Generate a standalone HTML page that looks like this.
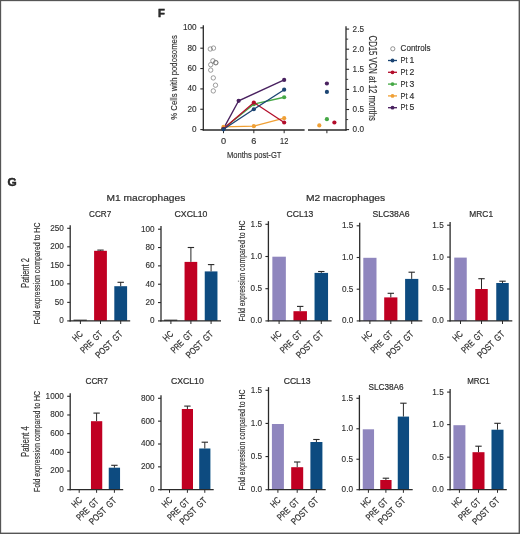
<!DOCTYPE html>
<html><head><meta charset="utf-8"><style>
html,body{margin:0;padding:0;background:#fff;}
svg{display:block;}
text{font-family:"Liberation Sans", sans-serif;fill:#2e2e2e;}
</style></head><body>
<svg width="520" height="534" viewBox="0 0 520 534">
<defs><filter id="soft" x="-5%" y="-5%" width="110%" height="110%"><feGaussianBlur stdDeviation="0.3"/></filter></defs>
<rect x="0" y="0" width="520" height="534" fill="#fff"/>
<g filter="url(#soft)">
<text x="157.90" y="17.00" font-size="11.6" textLength="6.90" lengthAdjust="spacingAndGlyphs" font-weight="bold" fill="#111" stroke="#111" stroke-width="0.45">F</text>
<line x1="203.30" y1="25.20" x2="203.30" y2="130.60" stroke="#2a2a2a" stroke-width="1.3"/>
<line x1="200.30" y1="129.60" x2="203.30" y2="129.60" stroke="#2a2a2a" stroke-width="1.1"/>
<text x="196.60" y="132.10" font-size="8.2" text-anchor="end" stroke="#2e2e2e" stroke-width="0.12">0</text>
<line x1="200.30" y1="109.25" x2="203.30" y2="109.25" stroke="#2a2a2a" stroke-width="1.1"/>
<text x="196.60" y="111.75" font-size="8.2" text-anchor="end" stroke="#2e2e2e" stroke-width="0.12">20</text>
<line x1="200.30" y1="88.90" x2="203.30" y2="88.90" stroke="#2a2a2a" stroke-width="1.1"/>
<text x="196.60" y="91.40" font-size="8.2" text-anchor="end" stroke="#2e2e2e" stroke-width="0.12">40</text>
<line x1="200.30" y1="68.55" x2="203.30" y2="68.55" stroke="#2a2a2a" stroke-width="1.1"/>
<text x="196.60" y="71.05" font-size="8.2" text-anchor="end" stroke="#2e2e2e" stroke-width="0.12">60</text>
<line x1="200.30" y1="48.20" x2="203.30" y2="48.20" stroke="#2a2a2a" stroke-width="1.1"/>
<text x="196.60" y="50.70" font-size="8.2" text-anchor="end" stroke="#2e2e2e" stroke-width="0.12">80</text>
<line x1="200.30" y1="27.85" x2="203.30" y2="27.85" stroke="#2a2a2a" stroke-width="1.1"/>
<text x="196.60" y="30.35" font-size="8.2" text-anchor="end" stroke="#2e2e2e" stroke-width="0.12">100</text>
<text x="177.00" y="119.70" font-size="9.6" textLength="84.50" lengthAdjust="spacingAndGlyphs" transform="rotate(-90 177.00 119.70)" stroke="#2e2e2e" stroke-width="0.15">% Cells with podosomes</text>
<line x1="202.70" y1="130.00" x2="304.60" y2="130.00" stroke="#2a2a2a" stroke-width="1.3"/>
<line x1="223.50" y1="130.00" x2="223.50" y2="133.20" stroke="#2a2a2a" stroke-width="1.0"/>
<line x1="253.83" y1="130.00" x2="253.83" y2="133.20" stroke="#2a2a2a" stroke-width="1.0"/>
<line x1="284.16" y1="130.00" x2="284.16" y2="133.20" stroke="#2a2a2a" stroke-width="1.0"/>
<text x="223.50" y="143.80" font-size="9.2" text-anchor="middle" stroke="#2e2e2e" stroke-width="0.15">0</text>
<text x="253.83" y="143.80" font-size="9.2" text-anchor="middle" stroke="#2e2e2e" stroke-width="0.15">6</text>
<text x="284.16" y="143.80" font-size="9.2" text-anchor="middle" textLength="8.30" lengthAdjust="spacingAndGlyphs" stroke="#2e2e2e" stroke-width="0.15">12</text>
<text x="254.20" y="157.60" font-size="9.9" text-anchor="middle" textLength="54.50" lengthAdjust="spacingAndGlyphs" stroke="#2e2e2e" stroke-width="0.15">Months post-GT</text>
<line x1="308.00" y1="130.00" x2="346.60" y2="130.00" stroke="#2a2a2a" stroke-width="1.3"/>
<line x1="326.90" y1="130.00" x2="326.90" y2="133.20" stroke="#2a2a2a" stroke-width="1.0"/>
<line x1="346.00" y1="26.20" x2="346.00" y2="130.60" stroke="#2a2a2a" stroke-width="1.3"/>
<line x1="346.00" y1="129.60" x2="349.10" y2="129.60" stroke="#2a2a2a" stroke-width="1.1"/>
<text x="352.60" y="132.10" font-size="8.2" stroke="#2e2e2e" stroke-width="0.12">0.0</text>
<line x1="346.00" y1="119.55" x2="348.20" y2="119.55" stroke="#2a2a2a" stroke-width="0.9"/>
<line x1="346.00" y1="109.50" x2="349.10" y2="109.50" stroke="#2a2a2a" stroke-width="1.1"/>
<text x="352.60" y="112.00" font-size="8.2" stroke="#2e2e2e" stroke-width="0.12">0.5</text>
<line x1="346.00" y1="99.45" x2="348.20" y2="99.45" stroke="#2a2a2a" stroke-width="0.9"/>
<line x1="346.00" y1="89.40" x2="349.10" y2="89.40" stroke="#2a2a2a" stroke-width="1.1"/>
<text x="352.60" y="91.90" font-size="8.2" stroke="#2e2e2e" stroke-width="0.12">1.0</text>
<line x1="346.00" y1="79.35" x2="348.20" y2="79.35" stroke="#2a2a2a" stroke-width="0.9"/>
<line x1="346.00" y1="69.30" x2="349.10" y2="69.30" stroke="#2a2a2a" stroke-width="1.1"/>
<text x="352.60" y="71.80" font-size="8.2" stroke="#2e2e2e" stroke-width="0.12">1.5</text>
<line x1="346.00" y1="59.25" x2="348.20" y2="59.25" stroke="#2a2a2a" stroke-width="0.9"/>
<line x1="346.00" y1="49.20" x2="349.10" y2="49.20" stroke="#2a2a2a" stroke-width="1.1"/>
<text x="352.60" y="51.70" font-size="8.2" stroke="#2e2e2e" stroke-width="0.12">2.0</text>
<line x1="346.00" y1="39.15" x2="348.20" y2="39.15" stroke="#2a2a2a" stroke-width="0.9"/>
<line x1="346.00" y1="29.10" x2="349.10" y2="29.10" stroke="#2a2a2a" stroke-width="1.1"/>
<text x="352.60" y="31.60" font-size="8.2" stroke="#2e2e2e" stroke-width="0.12">2.5</text>
<text x="369.20" y="35.60" font-size="10.0" textLength="85.30" lengthAdjust="spacingAndGlyphs" transform="rotate(90 369.20 35.60)" stroke="#2e2e2e" stroke-width="0.15">CD15 VCN at 12 months</text>
<circle cx="210.30" cy="49.00" r="2.2" fill="none" stroke="#6a6a6a" stroke-width="0.65"/>
<circle cx="213.50" cy="48.10" r="2.2" fill="none" stroke="#6a6a6a" stroke-width="0.65"/>
<circle cx="212.90" cy="60.80" r="2.2" fill="none" stroke="#6a6a6a" stroke-width="0.65"/>
<circle cx="215.70" cy="62.50" r="2.2" fill="none" stroke="#6a6a6a" stroke-width="0.65"/>
<circle cx="215.90" cy="62.80" r="2.2" fill="none" stroke="#6a6a6a" stroke-width="0.65"/>
<circle cx="210.70" cy="64.70" r="2.2" fill="none" stroke="#6a6a6a" stroke-width="0.65"/>
<circle cx="210.70" cy="70.10" r="2.2" fill="none" stroke="#6a6a6a" stroke-width="0.65"/>
<circle cx="213.30" cy="77.90" r="2.2" fill="none" stroke="#6a6a6a" stroke-width="0.65"/>
<circle cx="215.50" cy="85.20" r="2.2" fill="none" stroke="#6a6a6a" stroke-width="0.65"/>
<circle cx="213.30" cy="90.90" r="2.2" fill="none" stroke="#6a6a6a" stroke-width="0.65"/>
<polyline points="223.50,128.58 238.66,100.80 284.16,79.95" fill="none" stroke="#48205f" stroke-width="1.35"/>
<circle cx="223.50" cy="128.58" r="2.1" fill="#48205f"/>
<circle cx="238.66" cy="100.80" r="2.1" fill="#48205f"/>
<circle cx="284.16" cy="79.95" r="2.1" fill="#48205f"/>
<polyline points="223.50,128.58 253.83,104.16 284.16,97.24" fill="none" stroke="#45a845" stroke-width="1.35"/>
<circle cx="223.50" cy="128.58" r="2.1" fill="#45a845"/>
<circle cx="253.83" cy="104.16" r="2.1" fill="#45a845"/>
<circle cx="284.16" cy="97.24" r="2.1" fill="#45a845"/>
<polyline points="223.50,126.95 253.83,126.14 284.16,118.20" fill="none" stroke="#f0a035" stroke-width="1.35"/>
<circle cx="223.50" cy="126.95" r="2.1" fill="#f0a035"/>
<circle cx="253.83" cy="126.14" r="2.1" fill="#f0a035"/>
<circle cx="284.16" cy="118.20" r="2.1" fill="#f0a035"/>
<polyline points="223.50,128.79 253.83,102.53 284.16,122.48" fill="none" stroke="#b3102c" stroke-width="1.35"/>
<circle cx="223.50" cy="128.79" r="2.1" fill="#b3102c"/>
<circle cx="253.83" cy="102.53" r="2.1" fill="#b3102c"/>
<circle cx="284.16" cy="122.48" r="2.1" fill="#b3102c"/>
<polyline points="223.50,129.29 253.83,109.25 284.16,89.71" fill="none" stroke="#1c4473" stroke-width="1.35"/>
<circle cx="223.50" cy="129.29" r="2.1" fill="#1c4473"/>
<circle cx="253.83" cy="109.25" r="2.1" fill="#1c4473"/>
<circle cx="284.16" cy="89.71" r="2.1" fill="#1c4473"/>
<circle cx="326.90" cy="83.50" r="2.1" fill="#48205f"/>
<circle cx="326.90" cy="91.90" r="2.1" fill="#1c4473"/>
<circle cx="326.90" cy="119.20" r="2.1" fill="#45a845"/>
<circle cx="334.40" cy="122.50" r="2.1" fill="#b3102c"/>
<circle cx="319.30" cy="125.40" r="2.1" fill="#f0a035"/>
<circle cx="392.80" cy="48.80" r="2.1" fill="none" stroke="#666" stroke-width="0.7"/>
<text x="400.60" y="51.10" font-size="8.4" textLength="30.00" lengthAdjust="spacingAndGlyphs" stroke="#2e2e2e" stroke-width="0.15">Controls</text>
<line x1="388.00" y1="60.50" x2="397.00" y2="60.50" stroke="#1c4473" stroke-width="1.3"/>
<circle cx="392.50" cy="60.50" r="1.9" fill="#1c4473"/>
<text x="400.60" y="63.10" font-size="8.6" textLength="6.90" lengthAdjust="spacingAndGlyphs" stroke="#2e2e2e" stroke-width="0.15">Pt</text>
<text x="409.50" y="63.10" font-size="8.6" stroke="#2e2e2e" stroke-width="0.15">1</text>
<line x1="388.00" y1="72.30" x2="397.00" y2="72.30" stroke="#b3102c" stroke-width="1.3"/>
<circle cx="392.50" cy="72.30" r="1.9" fill="#b3102c"/>
<text x="400.60" y="74.90" font-size="8.6" textLength="6.90" lengthAdjust="spacingAndGlyphs" stroke="#2e2e2e" stroke-width="0.15">Pt</text>
<text x="409.50" y="74.90" font-size="8.6" stroke="#2e2e2e" stroke-width="0.15">2</text>
<line x1="388.00" y1="84.10" x2="397.00" y2="84.10" stroke="#45a845" stroke-width="1.3"/>
<circle cx="392.50" cy="84.10" r="1.9" fill="#45a845"/>
<text x="400.60" y="86.70" font-size="8.6" textLength="6.90" lengthAdjust="spacingAndGlyphs" stroke="#2e2e2e" stroke-width="0.15">Pt</text>
<text x="409.50" y="86.70" font-size="8.6" stroke="#2e2e2e" stroke-width="0.15">3</text>
<line x1="388.00" y1="95.90" x2="397.00" y2="95.90" stroke="#f0a035" stroke-width="1.3"/>
<circle cx="392.50" cy="95.90" r="1.9" fill="#f0a035"/>
<text x="400.60" y="98.50" font-size="8.6" textLength="6.90" lengthAdjust="spacingAndGlyphs" stroke="#2e2e2e" stroke-width="0.15">Pt</text>
<text x="409.50" y="98.50" font-size="8.6" stroke="#2e2e2e" stroke-width="0.15">4</text>
<line x1="388.00" y1="107.70" x2="397.00" y2="107.70" stroke="#48205f" stroke-width="1.3"/>
<circle cx="392.50" cy="107.70" r="1.9" fill="#48205f"/>
<text x="400.60" y="110.30" font-size="8.6" textLength="6.90" lengthAdjust="spacingAndGlyphs" stroke="#2e2e2e" stroke-width="0.15">Pt</text>
<text x="409.50" y="110.30" font-size="8.6" stroke="#2e2e2e" stroke-width="0.15">5</text>
<text x="7.40" y="185.80" font-size="11.6" textLength="9.20" lengthAdjust="spacingAndGlyphs" font-weight="bold" fill="#111" stroke="#111" stroke-width="0.45">G</text>
<text x="145.95" y="201.10" font-size="9.9" text-anchor="middle" textLength="78.70" lengthAdjust="spacingAndGlyphs" stroke="#2e2e2e" stroke-width="0.2">M1 macrophages</text>
<text x="345.55" y="201.40" font-size="9.9" text-anchor="middle" textLength="79.30" lengthAdjust="spacingAndGlyphs" stroke="#2e2e2e" stroke-width="0.2">M2 macrophages</text>
<line x1="70.20" y1="225.15" x2="70.20" y2="321.50" stroke="#2a2a2a" stroke-width="1.3"/>
<line x1="67.20" y1="320.90" x2="70.20" y2="320.90" stroke="#2a2a2a" stroke-width="1.1"/>
<text x="63.80" y="323.30" font-size="8.2" text-anchor="end" stroke="#2e2e2e" stroke-width="0.12">0</text>
<line x1="67.20" y1="302.38" x2="70.20" y2="302.38" stroke="#2a2a2a" stroke-width="1.1"/>
<text x="63.80" y="304.78" font-size="8.2" text-anchor="end" stroke="#2e2e2e" stroke-width="0.12">50</text>
<line x1="67.20" y1="283.86" x2="70.20" y2="283.86" stroke="#2a2a2a" stroke-width="1.1"/>
<text x="63.80" y="286.26" font-size="8.2" text-anchor="end" stroke="#2e2e2e" stroke-width="0.12">100</text>
<line x1="67.20" y1="265.34" x2="70.20" y2="265.34" stroke="#2a2a2a" stroke-width="1.1"/>
<text x="63.80" y="267.74" font-size="8.2" text-anchor="end" stroke="#2e2e2e" stroke-width="0.12">150</text>
<line x1="67.20" y1="246.82" x2="70.20" y2="246.82" stroke="#2a2a2a" stroke-width="1.1"/>
<text x="63.80" y="249.22" font-size="8.2" text-anchor="end" stroke="#2e2e2e" stroke-width="0.12">200</text>
<line x1="67.20" y1="228.30" x2="70.20" y2="228.30" stroke="#2a2a2a" stroke-width="1.1"/>
<text x="63.80" y="230.70" font-size="8.2" text-anchor="end" stroke="#2e2e2e" stroke-width="0.12">250</text>
<rect x="94.10" y="250.80" width="12.80" height="70.10" fill="#c00023"/>
<line x1="100.50" y1="250.10" x2="100.50" y2="250.80" stroke="#2a2a2a" stroke-width="1.0"/>
<line x1="97.30" y1="250.10" x2="103.70" y2="250.10" stroke="#2a2a2a" stroke-width="1.1"/>
<rect x="114.30" y="286.20" width="12.80" height="34.70" fill="#0c4c80"/>
<line x1="120.70" y1="282.30" x2="120.70" y2="286.20" stroke="#2a2a2a" stroke-width="1.0"/>
<line x1="117.50" y1="282.30" x2="123.90" y2="282.30" stroke="#2a2a2a" stroke-width="1.1"/>
<line x1="73.50" y1="320.20" x2="86.80" y2="320.20" stroke="#2a2a2a" stroke-width="1.1"/>
<line x1="69.60" y1="320.90" x2="130.20" y2="320.90" stroke="#2a2a2a" stroke-width="1.3"/>
<line x1="80.40" y1="320.90" x2="80.40" y2="324.00" stroke="#2a2a2a" stroke-width="1.0"/>
<line x1="100.50" y1="320.90" x2="100.50" y2="324.00" stroke="#2a2a2a" stroke-width="1.0"/>
<line x1="120.70" y1="320.90" x2="120.70" y2="324.00" stroke="#2a2a2a" stroke-width="1.0"/>
<text x="100.20" y="217.10" font-size="9.8" text-anchor="middle" textLength="22.20" lengthAdjust="spacingAndGlyphs" stroke="#2e2e2e" stroke-width="0.22">CCR7</text>
<text x="83.40" y="334.60" font-size="9.3" text-anchor="end" textLength="10.40" lengthAdjust="spacingAndGlyphs" transform="rotate(-45 83.40 334.60)" stroke="#2e2e2e" stroke-width="0.22">HC</text>
<text x="103.10" y="334.60" font-size="9.3" text-anchor="end" textLength="27.00" lengthAdjust="spacingAndGlyphs" transform="rotate(-45 103.10 334.60)" stroke="#2e2e2e" stroke-width="0.22">PRE&#8194;GT</text>
<text x="123.30" y="334.60" font-size="9.3" text-anchor="end" textLength="34.20" lengthAdjust="spacingAndGlyphs" transform="rotate(-45 123.30 334.60)" stroke="#2e2e2e" stroke-width="0.22">POST&#8194;GT</text>
<line x1="161.00" y1="226.05" x2="161.00" y2="321.50" stroke="#2a2a2a" stroke-width="1.3"/>
<line x1="158.00" y1="320.90" x2="161.00" y2="320.90" stroke="#2a2a2a" stroke-width="1.1"/>
<text x="154.60" y="323.30" font-size="8.2" text-anchor="end" stroke="#2e2e2e" stroke-width="0.12">0</text>
<line x1="158.00" y1="302.56" x2="161.00" y2="302.56" stroke="#2a2a2a" stroke-width="1.1"/>
<text x="154.60" y="304.96" font-size="8.2" text-anchor="end" stroke="#2e2e2e" stroke-width="0.12">20</text>
<line x1="158.00" y1="284.22" x2="161.00" y2="284.22" stroke="#2a2a2a" stroke-width="1.1"/>
<text x="154.60" y="286.62" font-size="8.2" text-anchor="end" stroke="#2e2e2e" stroke-width="0.12">40</text>
<line x1="158.00" y1="265.88" x2="161.00" y2="265.88" stroke="#2a2a2a" stroke-width="1.1"/>
<text x="154.60" y="268.28" font-size="8.2" text-anchor="end" stroke="#2e2e2e" stroke-width="0.12">60</text>
<line x1="158.00" y1="247.54" x2="161.00" y2="247.54" stroke="#2a2a2a" stroke-width="1.1"/>
<text x="154.60" y="249.94" font-size="8.2" text-anchor="end" stroke="#2e2e2e" stroke-width="0.12">80</text>
<line x1="158.00" y1="229.20" x2="161.00" y2="229.20" stroke="#2a2a2a" stroke-width="1.1"/>
<text x="154.60" y="231.60" font-size="8.2" text-anchor="end" stroke="#2e2e2e" stroke-width="0.12">100</text>
<rect x="184.55" y="261.90" width="12.70" height="59.00" fill="#c00023"/>
<line x1="190.90" y1="247.50" x2="190.90" y2="261.90" stroke="#2a2a2a" stroke-width="1.0"/>
<line x1="187.70" y1="247.50" x2="194.10" y2="247.50" stroke="#2a2a2a" stroke-width="1.1"/>
<rect x="204.75" y="271.40" width="12.70" height="49.50" fill="#0c4c80"/>
<line x1="211.10" y1="264.60" x2="211.10" y2="271.40" stroke="#2a2a2a" stroke-width="1.0"/>
<line x1="207.90" y1="264.60" x2="214.30" y2="264.60" stroke="#2a2a2a" stroke-width="1.1"/>
<line x1="164.05" y1="320.20" x2="177.25" y2="320.20" stroke="#2a2a2a" stroke-width="1.1"/>
<line x1="160.40" y1="320.90" x2="221.00" y2="320.90" stroke="#2a2a2a" stroke-width="1.3"/>
<line x1="170.90" y1="320.90" x2="170.90" y2="324.00" stroke="#2a2a2a" stroke-width="1.0"/>
<line x1="190.90" y1="320.90" x2="190.90" y2="324.00" stroke="#2a2a2a" stroke-width="1.0"/>
<line x1="211.10" y1="320.90" x2="211.10" y2="324.00" stroke="#2a2a2a" stroke-width="1.0"/>
<text x="191.00" y="217.10" font-size="9.8" text-anchor="middle" textLength="32.90" lengthAdjust="spacingAndGlyphs" stroke="#2e2e2e" stroke-width="0.22">CXCL10</text>
<text x="173.90" y="334.60" font-size="9.3" text-anchor="end" textLength="10.40" lengthAdjust="spacingAndGlyphs" transform="rotate(-45 173.90 334.60)" stroke="#2e2e2e" stroke-width="0.22">HC</text>
<text x="193.50" y="334.60" font-size="9.3" text-anchor="end" textLength="27.00" lengthAdjust="spacingAndGlyphs" transform="rotate(-45 193.50 334.60)" stroke="#2e2e2e" stroke-width="0.22">PRE&#8194;GT</text>
<text x="213.70" y="334.60" font-size="9.3" text-anchor="end" textLength="34.20" lengthAdjust="spacingAndGlyphs" transform="rotate(-45 213.70 334.60)" stroke="#2e2e2e" stroke-width="0.22">POST&#8194;GT</text>
<line x1="268.40" y1="221.15" x2="268.40" y2="321.50" stroke="#2a2a2a" stroke-width="1.3"/>
<line x1="265.40" y1="320.90" x2="268.40" y2="320.90" stroke="#2a2a2a" stroke-width="1.1"/>
<text x="262.00" y="323.30" font-size="8.2" text-anchor="end" stroke="#2e2e2e" stroke-width="0.12">0.0</text>
<line x1="265.40" y1="288.70" x2="268.40" y2="288.70" stroke="#2a2a2a" stroke-width="1.1"/>
<text x="262.00" y="291.10" font-size="8.2" text-anchor="end" stroke="#2e2e2e" stroke-width="0.12">0.5</text>
<line x1="265.40" y1="256.50" x2="268.40" y2="256.50" stroke="#2a2a2a" stroke-width="1.1"/>
<text x="262.00" y="258.90" font-size="8.2" text-anchor="end" stroke="#2e2e2e" stroke-width="0.12">1.0</text>
<line x1="265.40" y1="224.30" x2="268.40" y2="224.30" stroke="#2a2a2a" stroke-width="1.1"/>
<text x="262.00" y="226.70" font-size="8.2" text-anchor="end" stroke="#2e2e2e" stroke-width="0.12">1.5</text>
<rect x="272.35" y="256.70" width="13.50" height="64.20" fill="#8f86be"/>
<rect x="293.45" y="311.20" width="13.50" height="9.70" fill="#c00023"/>
<line x1="300.20" y1="306.40" x2="300.20" y2="311.20" stroke="#2a2a2a" stroke-width="1.0"/>
<line x1="297.00" y1="306.40" x2="303.40" y2="306.40" stroke="#2a2a2a" stroke-width="1.1"/>
<rect x="314.55" y="272.90" width="13.50" height="48.00" fill="#0c4c80"/>
<line x1="321.30" y1="271.50" x2="321.30" y2="272.90" stroke="#2a2a2a" stroke-width="1.0"/>
<line x1="318.10" y1="271.50" x2="324.50" y2="271.50" stroke="#2a2a2a" stroke-width="1.1"/>
<line x1="267.80" y1="320.90" x2="331.60" y2="320.90" stroke="#2a2a2a" stroke-width="1.3"/>
<line x1="279.10" y1="320.90" x2="279.10" y2="324.00" stroke="#2a2a2a" stroke-width="1.0"/>
<line x1="300.20" y1="320.90" x2="300.20" y2="324.00" stroke="#2a2a2a" stroke-width="1.0"/>
<line x1="321.30" y1="320.90" x2="321.30" y2="324.00" stroke="#2a2a2a" stroke-width="1.0"/>
<text x="300.00" y="217.20" font-size="9.8" text-anchor="middle" textLength="26.80" lengthAdjust="spacingAndGlyphs" stroke="#2e2e2e" stroke-width="0.22">CCL13</text>
<text x="282.10" y="334.60" font-size="9.3" text-anchor="end" textLength="10.40" lengthAdjust="spacingAndGlyphs" transform="rotate(-45 282.10 334.60)" stroke="#2e2e2e" stroke-width="0.22">HC</text>
<text x="302.80" y="334.60" font-size="9.3" text-anchor="end" textLength="27.00" lengthAdjust="spacingAndGlyphs" transform="rotate(-45 302.80 334.60)" stroke="#2e2e2e" stroke-width="0.22">PRE&#8194;GT</text>
<text x="323.90" y="334.60" font-size="9.3" text-anchor="end" textLength="34.20" lengthAdjust="spacingAndGlyphs" transform="rotate(-45 323.90 334.60)" stroke="#2e2e2e" stroke-width="0.22">POST&#8194;GT</text>
<line x1="359.70" y1="222.65" x2="359.70" y2="321.50" stroke="#2a2a2a" stroke-width="1.3"/>
<line x1="356.70" y1="320.90" x2="359.70" y2="320.90" stroke="#2a2a2a" stroke-width="1.1"/>
<text x="353.30" y="323.30" font-size="8.2" text-anchor="end" stroke="#2e2e2e" stroke-width="0.12">0.0</text>
<line x1="356.70" y1="289.20" x2="359.70" y2="289.20" stroke="#2a2a2a" stroke-width="1.1"/>
<text x="353.30" y="291.60" font-size="8.2" text-anchor="end" stroke="#2e2e2e" stroke-width="0.12">0.5</text>
<line x1="356.70" y1="257.50" x2="359.70" y2="257.50" stroke="#2a2a2a" stroke-width="1.1"/>
<text x="353.30" y="259.90" font-size="8.2" text-anchor="end" stroke="#2e2e2e" stroke-width="0.12">1.0</text>
<line x1="356.70" y1="225.80" x2="359.70" y2="225.80" stroke="#2a2a2a" stroke-width="1.1"/>
<text x="353.30" y="228.20" font-size="8.2" text-anchor="end" stroke="#2e2e2e" stroke-width="0.12">1.5</text>
<rect x="363.30" y="257.80" width="13.20" height="63.10" fill="#8f86be"/>
<rect x="384.20" y="297.40" width="13.20" height="23.50" fill="#c00023"/>
<line x1="390.80" y1="293.30" x2="390.80" y2="297.40" stroke="#2a2a2a" stroke-width="1.0"/>
<line x1="387.60" y1="293.30" x2="394.00" y2="293.30" stroke="#2a2a2a" stroke-width="1.1"/>
<rect x="405.10" y="278.90" width="13.20" height="42.00" fill="#0c4c80"/>
<line x1="411.70" y1="272.20" x2="411.70" y2="278.90" stroke="#2a2a2a" stroke-width="1.0"/>
<line x1="408.50" y1="272.20" x2="414.90" y2="272.20" stroke="#2a2a2a" stroke-width="1.1"/>
<line x1="359.10" y1="320.90" x2="422.30" y2="320.90" stroke="#2a2a2a" stroke-width="1.3"/>
<line x1="369.90" y1="320.90" x2="369.90" y2="324.00" stroke="#2a2a2a" stroke-width="1.0"/>
<line x1="390.80" y1="320.90" x2="390.80" y2="324.00" stroke="#2a2a2a" stroke-width="1.0"/>
<line x1="411.70" y1="320.90" x2="411.70" y2="324.00" stroke="#2a2a2a" stroke-width="1.0"/>
<text x="391.00" y="216.80" font-size="9.8" text-anchor="middle" textLength="36.90" lengthAdjust="spacingAndGlyphs" stroke="#2e2e2e" stroke-width="0.22">SLC38A6</text>
<text x="372.90" y="334.60" font-size="9.3" text-anchor="end" textLength="10.40" lengthAdjust="spacingAndGlyphs" transform="rotate(-45 372.90 334.60)" stroke="#2e2e2e" stroke-width="0.22">HC</text>
<text x="393.40" y="334.60" font-size="9.3" text-anchor="end" textLength="27.00" lengthAdjust="spacingAndGlyphs" transform="rotate(-45 393.40 334.60)" stroke="#2e2e2e" stroke-width="0.22">PRE&#8194;GT</text>
<text x="414.30" y="334.60" font-size="9.3" text-anchor="end" textLength="34.20" lengthAdjust="spacingAndGlyphs" transform="rotate(-45 414.30 334.60)" stroke="#2e2e2e" stroke-width="0.22">POST&#8194;GT</text>
<line x1="450.10" y1="222.05" x2="450.10" y2="321.50" stroke="#2a2a2a" stroke-width="1.3"/>
<line x1="447.10" y1="320.90" x2="450.10" y2="320.90" stroke="#2a2a2a" stroke-width="1.1"/>
<text x="443.70" y="323.30" font-size="8.2" text-anchor="end" stroke="#2e2e2e" stroke-width="0.12">0.0</text>
<line x1="447.10" y1="289.00" x2="450.10" y2="289.00" stroke="#2a2a2a" stroke-width="1.1"/>
<text x="443.70" y="291.40" font-size="8.2" text-anchor="end" stroke="#2e2e2e" stroke-width="0.12">0.5</text>
<line x1="447.10" y1="257.10" x2="450.10" y2="257.10" stroke="#2a2a2a" stroke-width="1.1"/>
<text x="443.70" y="259.50" font-size="8.2" text-anchor="end" stroke="#2e2e2e" stroke-width="0.12">1.0</text>
<line x1="447.10" y1="225.20" x2="450.10" y2="225.20" stroke="#2a2a2a" stroke-width="1.1"/>
<text x="443.70" y="227.60" font-size="8.2" text-anchor="end" stroke="#2e2e2e" stroke-width="0.12">1.5</text>
<rect x="454.25" y="257.60" width="12.50" height="63.30" fill="#8f86be"/>
<rect x="475.25" y="289.00" width="12.50" height="31.90" fill="#c00023"/>
<line x1="481.50" y1="278.70" x2="481.50" y2="289.00" stroke="#2a2a2a" stroke-width="1.0"/>
<line x1="478.30" y1="278.70" x2="484.70" y2="278.70" stroke="#2a2a2a" stroke-width="1.1"/>
<rect x="496.25" y="283.00" width="12.50" height="37.90" fill="#0c4c80"/>
<line x1="502.50" y1="281.20" x2="502.50" y2="283.00" stroke="#2a2a2a" stroke-width="1.0"/>
<line x1="499.30" y1="281.20" x2="505.70" y2="281.20" stroke="#2a2a2a" stroke-width="1.1"/>
<line x1="449.50" y1="320.90" x2="512.30" y2="320.90" stroke="#2a2a2a" stroke-width="1.3"/>
<line x1="460.50" y1="320.90" x2="460.50" y2="324.00" stroke="#2a2a2a" stroke-width="1.0"/>
<line x1="481.50" y1="320.90" x2="481.50" y2="324.00" stroke="#2a2a2a" stroke-width="1.0"/>
<line x1="502.50" y1="320.90" x2="502.50" y2="324.00" stroke="#2a2a2a" stroke-width="1.0"/>
<text x="481.20" y="216.60" font-size="9.8" text-anchor="middle" textLength="23.70" lengthAdjust="spacingAndGlyphs" stroke="#2e2e2e" stroke-width="0.22">MRC1</text>
<text x="463.50" y="334.60" font-size="9.3" text-anchor="end" textLength="10.40" lengthAdjust="spacingAndGlyphs" transform="rotate(-45 463.50 334.60)" stroke="#2e2e2e" stroke-width="0.22">HC</text>
<text x="484.10" y="334.60" font-size="9.3" text-anchor="end" textLength="27.00" lengthAdjust="spacingAndGlyphs" transform="rotate(-45 484.10 334.60)" stroke="#2e2e2e" stroke-width="0.22">PRE&#8194;GT</text>
<text x="505.10" y="334.60" font-size="9.3" text-anchor="end" textLength="34.20" lengthAdjust="spacingAndGlyphs" transform="rotate(-45 505.10 334.60)" stroke="#2e2e2e" stroke-width="0.22">POST&#8194;GT</text>
<line x1="70.20" y1="393.15" x2="70.20" y2="490.30" stroke="#2a2a2a" stroke-width="1.3"/>
<line x1="67.20" y1="489.70" x2="70.20" y2="489.70" stroke="#2a2a2a" stroke-width="1.1"/>
<text x="63.80" y="492.10" font-size="8.2" text-anchor="end" stroke="#2e2e2e" stroke-width="0.12">0</text>
<line x1="67.20" y1="471.02" x2="70.20" y2="471.02" stroke="#2a2a2a" stroke-width="1.1"/>
<text x="63.80" y="473.42" font-size="8.2" text-anchor="end" stroke="#2e2e2e" stroke-width="0.12">200</text>
<line x1="67.20" y1="452.34" x2="70.20" y2="452.34" stroke="#2a2a2a" stroke-width="1.1"/>
<text x="63.80" y="454.74" font-size="8.2" text-anchor="end" stroke="#2e2e2e" stroke-width="0.12">400</text>
<line x1="67.20" y1="433.66" x2="70.20" y2="433.66" stroke="#2a2a2a" stroke-width="1.1"/>
<text x="63.80" y="436.06" font-size="8.2" text-anchor="end" stroke="#2e2e2e" stroke-width="0.12">600</text>
<line x1="67.20" y1="414.98" x2="70.20" y2="414.98" stroke="#2a2a2a" stroke-width="1.1"/>
<text x="63.80" y="417.38" font-size="8.2" text-anchor="end" stroke="#2e2e2e" stroke-width="0.12">800</text>
<line x1="67.20" y1="396.30" x2="70.20" y2="396.30" stroke="#2a2a2a" stroke-width="1.1"/>
<text x="63.80" y="398.70" font-size="8.2" text-anchor="end" stroke="#2e2e2e" stroke-width="0.12">1000</text>
<rect x="90.95" y="421.20" width="11.30" height="68.50" fill="#c00023"/>
<line x1="96.60" y1="413.10" x2="96.60" y2="421.20" stroke="#2a2a2a" stroke-width="1.0"/>
<line x1="93.40" y1="413.10" x2="99.80" y2="413.10" stroke="#2a2a2a" stroke-width="1.1"/>
<rect x="108.75" y="467.70" width="11.30" height="22.00" fill="#0c4c80"/>
<line x1="114.40" y1="465.30" x2="114.40" y2="467.70" stroke="#2a2a2a" stroke-width="1.0"/>
<line x1="111.20" y1="465.30" x2="117.60" y2="465.30" stroke="#2a2a2a" stroke-width="1.1"/>
<line x1="69.60" y1="489.70" x2="123.20" y2="489.70" stroke="#2a2a2a" stroke-width="1.3"/>
<line x1="79.20" y1="489.70" x2="79.20" y2="492.80" stroke="#2a2a2a" stroke-width="1.0"/>
<line x1="96.60" y1="489.70" x2="96.60" y2="492.80" stroke="#2a2a2a" stroke-width="1.0"/>
<line x1="114.40" y1="489.70" x2="114.40" y2="492.80" stroke="#2a2a2a" stroke-width="1.0"/>
<text x="96.70" y="383.90" font-size="9.8" text-anchor="middle" textLength="22.60" lengthAdjust="spacingAndGlyphs" stroke="#2e2e2e" stroke-width="0.22">CCR7</text>
<text x="82.60" y="500.80" font-size="9.3" text-anchor="end" textLength="10.40" lengthAdjust="spacingAndGlyphs" transform="rotate(-45 82.60 500.80)" stroke="#2e2e2e" stroke-width="0.22">HC</text>
<text x="99.20" y="502.00" font-size="9.3" text-anchor="end" textLength="27.00" lengthAdjust="spacingAndGlyphs" transform="rotate(-45 99.20 502.00)" stroke="#2e2e2e" stroke-width="0.22">PRE&#8194;GT</text>
<text x="117.00" y="501.10" font-size="9.3" text-anchor="end" textLength="34.20" lengthAdjust="spacingAndGlyphs" transform="rotate(-45 117.00 501.10)" stroke="#2e2e2e" stroke-width="0.22">POST&#8194;GT</text>
<line x1="161.00" y1="395.15" x2="161.00" y2="490.30" stroke="#2a2a2a" stroke-width="1.3"/>
<line x1="158.00" y1="489.70" x2="161.00" y2="489.70" stroke="#2a2a2a" stroke-width="1.1"/>
<text x="154.60" y="492.10" font-size="8.2" text-anchor="end" stroke="#2e2e2e" stroke-width="0.12">0</text>
<line x1="158.00" y1="466.85" x2="161.00" y2="466.85" stroke="#2a2a2a" stroke-width="1.1"/>
<text x="154.60" y="469.25" font-size="8.2" text-anchor="end" stroke="#2e2e2e" stroke-width="0.12">200</text>
<line x1="158.00" y1="444.00" x2="161.00" y2="444.00" stroke="#2a2a2a" stroke-width="1.1"/>
<text x="154.60" y="446.40" font-size="8.2" text-anchor="end" stroke="#2e2e2e" stroke-width="0.12">400</text>
<line x1="158.00" y1="421.15" x2="161.00" y2="421.15" stroke="#2a2a2a" stroke-width="1.1"/>
<text x="154.60" y="423.55" font-size="8.2" text-anchor="end" stroke="#2e2e2e" stroke-width="0.12">600</text>
<line x1="158.00" y1="398.30" x2="161.00" y2="398.30" stroke="#2a2a2a" stroke-width="1.1"/>
<text x="154.60" y="400.70" font-size="8.2" text-anchor="end" stroke="#2e2e2e" stroke-width="0.12">800</text>
<rect x="181.80" y="409.00" width="11.20" height="80.70" fill="#c00023"/>
<line x1="187.40" y1="406.10" x2="187.40" y2="409.00" stroke="#2a2a2a" stroke-width="1.0"/>
<line x1="184.20" y1="406.10" x2="190.60" y2="406.10" stroke="#2a2a2a" stroke-width="1.1"/>
<rect x="199.20" y="448.50" width="11.20" height="41.20" fill="#0c4c80"/>
<line x1="204.80" y1="442.20" x2="204.80" y2="448.50" stroke="#2a2a2a" stroke-width="1.0"/>
<line x1="201.60" y1="442.20" x2="208.00" y2="442.20" stroke="#2a2a2a" stroke-width="1.1"/>
<line x1="160.40" y1="489.70" x2="213.70" y2="489.70" stroke="#2a2a2a" stroke-width="1.3"/>
<line x1="169.50" y1="489.70" x2="169.50" y2="492.80" stroke="#2a2a2a" stroke-width="1.0"/>
<line x1="187.40" y1="489.70" x2="187.40" y2="492.80" stroke="#2a2a2a" stroke-width="1.0"/>
<line x1="204.80" y1="489.70" x2="204.80" y2="492.80" stroke="#2a2a2a" stroke-width="1.0"/>
<text x="187.35" y="383.90" font-size="9.8" text-anchor="middle" textLength="32.90" lengthAdjust="spacingAndGlyphs" stroke="#2e2e2e" stroke-width="0.22">CXCL10</text>
<text x="172.90" y="500.80" font-size="9.3" text-anchor="end" textLength="10.40" lengthAdjust="spacingAndGlyphs" transform="rotate(-45 172.90 500.80)" stroke="#2e2e2e" stroke-width="0.22">HC</text>
<text x="190.00" y="502.00" font-size="9.3" text-anchor="end" textLength="27.00" lengthAdjust="spacingAndGlyphs" transform="rotate(-45 190.00 502.00)" stroke="#2e2e2e" stroke-width="0.22">PRE&#8194;GT</text>
<text x="207.40" y="501.10" font-size="9.3" text-anchor="end" textLength="34.20" lengthAdjust="spacingAndGlyphs" transform="rotate(-45 207.40 501.10)" stroke="#2e2e2e" stroke-width="0.22">POST&#8194;GT</text>
<line x1="268.50" y1="387.15" x2="268.50" y2="490.30" stroke="#2a2a2a" stroke-width="1.3"/>
<line x1="265.50" y1="489.70" x2="268.50" y2="489.70" stroke="#2a2a2a" stroke-width="1.1"/>
<text x="262.10" y="492.10" font-size="8.2" text-anchor="end" stroke="#2e2e2e" stroke-width="0.12">0.0</text>
<line x1="265.50" y1="456.57" x2="268.50" y2="456.57" stroke="#2a2a2a" stroke-width="1.1"/>
<text x="262.10" y="458.97" font-size="8.2" text-anchor="end" stroke="#2e2e2e" stroke-width="0.12">0.5</text>
<line x1="265.50" y1="423.43" x2="268.50" y2="423.43" stroke="#2a2a2a" stroke-width="1.1"/>
<text x="262.10" y="425.83" font-size="8.2" text-anchor="end" stroke="#2e2e2e" stroke-width="0.12">1.0</text>
<line x1="265.50" y1="390.30" x2="268.50" y2="390.30" stroke="#2a2a2a" stroke-width="1.1"/>
<text x="262.10" y="392.70" font-size="8.2" text-anchor="end" stroke="#2e2e2e" stroke-width="0.12">1.5</text>
<rect x="271.90" y="424.00" width="12.00" height="65.70" fill="#8f86be"/>
<rect x="291.20" y="467.20" width="12.00" height="22.50" fill="#c00023"/>
<line x1="297.20" y1="462.00" x2="297.20" y2="467.20" stroke="#2a2a2a" stroke-width="1.0"/>
<line x1="294.00" y1="462.00" x2="300.40" y2="462.00" stroke="#2a2a2a" stroke-width="1.1"/>
<rect x="310.40" y="442.00" width="12.00" height="47.70" fill="#0c4c80"/>
<line x1="316.40" y1="439.50" x2="316.40" y2="442.00" stroke="#2a2a2a" stroke-width="1.0"/>
<line x1="313.20" y1="439.50" x2="319.60" y2="439.50" stroke="#2a2a2a" stroke-width="1.1"/>
<line x1="267.90" y1="489.70" x2="325.70" y2="489.70" stroke="#2a2a2a" stroke-width="1.3"/>
<line x1="277.90" y1="489.70" x2="277.90" y2="492.80" stroke="#2a2a2a" stroke-width="1.0"/>
<line x1="297.20" y1="489.70" x2="297.20" y2="492.80" stroke="#2a2a2a" stroke-width="1.0"/>
<line x1="316.40" y1="489.70" x2="316.40" y2="492.80" stroke="#2a2a2a" stroke-width="1.0"/>
<text x="297.10" y="384.00" font-size="9.8" text-anchor="middle" textLength="26.80" lengthAdjust="spacingAndGlyphs" stroke="#2e2e2e" stroke-width="0.22">CCL13</text>
<text x="281.30" y="500.80" font-size="9.3" text-anchor="end" textLength="10.40" lengthAdjust="spacingAndGlyphs" transform="rotate(-45 281.30 500.80)" stroke="#2e2e2e" stroke-width="0.22">HC</text>
<text x="299.80" y="502.00" font-size="9.3" text-anchor="end" textLength="27.00" lengthAdjust="spacingAndGlyphs" transform="rotate(-45 299.80 502.00)" stroke="#2e2e2e" stroke-width="0.22">PRE&#8194;GT</text>
<text x="319.00" y="501.10" font-size="9.3" text-anchor="end" textLength="34.20" lengthAdjust="spacingAndGlyphs" transform="rotate(-45 319.00 501.10)" stroke="#2e2e2e" stroke-width="0.22">POST&#8194;GT</text>
<line x1="359.40" y1="395.15" x2="359.40" y2="490.30" stroke="#2a2a2a" stroke-width="1.3"/>
<line x1="356.40" y1="489.70" x2="359.40" y2="489.70" stroke="#2a2a2a" stroke-width="1.1"/>
<text x="353.00" y="492.10" font-size="8.2" text-anchor="end" stroke="#2e2e2e" stroke-width="0.12">0.0</text>
<line x1="356.40" y1="459.23" x2="359.40" y2="459.23" stroke="#2a2a2a" stroke-width="1.1"/>
<text x="353.00" y="461.63" font-size="8.2" text-anchor="end" stroke="#2e2e2e" stroke-width="0.12">0.5</text>
<line x1="356.40" y1="428.77" x2="359.40" y2="428.77" stroke="#2a2a2a" stroke-width="1.1"/>
<text x="353.00" y="431.17" font-size="8.2" text-anchor="end" stroke="#2e2e2e" stroke-width="0.12">1.0</text>
<line x1="356.40" y1="398.30" x2="359.40" y2="398.30" stroke="#2a2a2a" stroke-width="1.1"/>
<text x="353.00" y="400.70" font-size="8.2" text-anchor="end" stroke="#2e2e2e" stroke-width="0.12">1.5</text>
<rect x="362.75" y="429.30" width="11.30" height="60.40" fill="#8f86be"/>
<rect x="380.25" y="480.00" width="11.30" height="9.70" fill="#c00023"/>
<line x1="385.90" y1="478.20" x2="385.90" y2="480.00" stroke="#2a2a2a" stroke-width="1.0"/>
<line x1="382.70" y1="478.20" x2="389.10" y2="478.20" stroke="#2a2a2a" stroke-width="1.1"/>
<rect x="397.75" y="416.60" width="11.30" height="73.10" fill="#0c4c80"/>
<line x1="403.40" y1="403.20" x2="403.40" y2="416.60" stroke="#2a2a2a" stroke-width="1.0"/>
<line x1="400.20" y1="403.20" x2="406.60" y2="403.20" stroke="#2a2a2a" stroke-width="1.1"/>
<line x1="358.80" y1="489.70" x2="412.70" y2="489.70" stroke="#2a2a2a" stroke-width="1.3"/>
<line x1="368.40" y1="489.70" x2="368.40" y2="492.80" stroke="#2a2a2a" stroke-width="1.0"/>
<line x1="385.90" y1="489.70" x2="385.90" y2="492.80" stroke="#2a2a2a" stroke-width="1.0"/>
<line x1="403.40" y1="489.70" x2="403.40" y2="492.80" stroke="#2a2a2a" stroke-width="1.0"/>
<text x="386.05" y="390.30" font-size="9.8" text-anchor="middle" textLength="35.10" lengthAdjust="spacingAndGlyphs" stroke="#2e2e2e" stroke-width="0.22">SLC38A6</text>
<text x="371.80" y="500.80" font-size="9.3" text-anchor="end" textLength="10.40" lengthAdjust="spacingAndGlyphs" transform="rotate(-45 371.80 500.80)" stroke="#2e2e2e" stroke-width="0.22">HC</text>
<text x="388.50" y="502.00" font-size="9.3" text-anchor="end" textLength="27.00" lengthAdjust="spacingAndGlyphs" transform="rotate(-45 388.50 502.00)" stroke="#2e2e2e" stroke-width="0.22">PRE&#8194;GT</text>
<text x="406.00" y="501.10" font-size="9.3" text-anchor="end" textLength="34.20" lengthAdjust="spacingAndGlyphs" transform="rotate(-45 406.00 501.10)" stroke="#2e2e2e" stroke-width="0.22">POST&#8194;GT</text>
<line x1="450.10" y1="388.95" x2="450.10" y2="490.30" stroke="#2a2a2a" stroke-width="1.3"/>
<line x1="447.10" y1="489.70" x2="450.10" y2="489.70" stroke="#2a2a2a" stroke-width="1.1"/>
<text x="443.70" y="492.10" font-size="8.2" text-anchor="end" stroke="#2e2e2e" stroke-width="0.12">0.0</text>
<line x1="447.10" y1="457.17" x2="450.10" y2="457.17" stroke="#2a2a2a" stroke-width="1.1"/>
<text x="443.70" y="459.57" font-size="8.2" text-anchor="end" stroke="#2e2e2e" stroke-width="0.12">0.5</text>
<line x1="447.10" y1="424.63" x2="450.10" y2="424.63" stroke="#2a2a2a" stroke-width="1.1"/>
<text x="443.70" y="427.03" font-size="8.2" text-anchor="end" stroke="#2e2e2e" stroke-width="0.12">1.0</text>
<line x1="447.10" y1="392.10" x2="450.10" y2="392.10" stroke="#2a2a2a" stroke-width="1.1"/>
<text x="443.70" y="394.50" font-size="8.2" text-anchor="end" stroke="#2e2e2e" stroke-width="0.12">1.5</text>
<rect x="453.40" y="425.20" width="12.00" height="64.50" fill="#8f86be"/>
<rect x="472.50" y="452.20" width="12.00" height="37.50" fill="#c00023"/>
<line x1="478.50" y1="446.20" x2="478.50" y2="452.20" stroke="#2a2a2a" stroke-width="1.0"/>
<line x1="475.30" y1="446.20" x2="481.70" y2="446.20" stroke="#2a2a2a" stroke-width="1.1"/>
<rect x="491.50" y="429.70" width="12.00" height="60.00" fill="#0c4c80"/>
<line x1="497.50" y1="423.30" x2="497.50" y2="429.70" stroke="#2a2a2a" stroke-width="1.0"/>
<line x1="494.30" y1="423.30" x2="500.70" y2="423.30" stroke="#2a2a2a" stroke-width="1.1"/>
<line x1="449.50" y1="489.70" x2="506.80" y2="489.70" stroke="#2a2a2a" stroke-width="1.3"/>
<line x1="459.40" y1="489.70" x2="459.40" y2="492.80" stroke="#2a2a2a" stroke-width="1.0"/>
<line x1="478.50" y1="489.70" x2="478.50" y2="492.80" stroke="#2a2a2a" stroke-width="1.0"/>
<line x1="497.50" y1="489.70" x2="497.50" y2="492.80" stroke="#2a2a2a" stroke-width="1.0"/>
<text x="478.45" y="383.70" font-size="9.8" text-anchor="middle" textLength="22.60" lengthAdjust="spacingAndGlyphs" stroke="#2e2e2e" stroke-width="0.22">MRC1</text>
<text x="462.80" y="500.80" font-size="9.3" text-anchor="end" textLength="10.40" lengthAdjust="spacingAndGlyphs" transform="rotate(-45 462.80 500.80)" stroke="#2e2e2e" stroke-width="0.22">HC</text>
<text x="481.10" y="502.00" font-size="9.3" text-anchor="end" textLength="27.00" lengthAdjust="spacingAndGlyphs" transform="rotate(-45 481.10 502.00)" stroke="#2e2e2e" stroke-width="0.22">PRE&#8194;GT</text>
<text x="500.10" y="501.10" font-size="9.3" text-anchor="end" textLength="34.20" lengthAdjust="spacingAndGlyphs" transform="rotate(-45 500.10 501.10)" stroke="#2e2e2e" stroke-width="0.22">POST&#8194;GT</text>
<text x="28.90" y="287.90" font-size="10.4" textLength="29.90" lengthAdjust="spacingAndGlyphs" transform="rotate(-90 28.90 287.90)" stroke="#2e2e2e" stroke-width="0.15">Patient 2</text>
<text x="39.80" y="324.20" font-size="8.9" textLength="101.60" lengthAdjust="spacingAndGlyphs" transform="rotate(-90 39.80 324.20)" stroke="#2e2e2e" stroke-width="0.15">Fold expression compared to HC</text>
<text x="29.20" y="456.90" font-size="10.4" textLength="30.80" lengthAdjust="spacingAndGlyphs" transform="rotate(-90 29.20 456.90)" stroke="#2e2e2e" stroke-width="0.15">Patient 4</text>
<text x="39.70" y="492.00" font-size="8.9" textLength="100.90" lengthAdjust="spacingAndGlyphs" transform="rotate(-90 39.70 492.00)" stroke="#2e2e2e" stroke-width="0.15">Fold expression compared to HC</text>
<text x="245.40" y="321.60" font-size="8.9" textLength="101.00" lengthAdjust="spacingAndGlyphs" transform="rotate(-90 245.40 321.60)" stroke="#2e2e2e" stroke-width="0.15">Fold expression compared to HC</text>
<text x="245.20" y="490.50" font-size="8.9" textLength="101.00" lengthAdjust="spacingAndGlyphs" transform="rotate(-90 245.20 490.50)" stroke="#2e2e2e" stroke-width="0.15">Fold expression compared to HC</text>
</g>
<rect x="0" y="0" width="520" height="1.15" fill="#555"/>
<rect x="0" y="0" width="1.15" height="534" fill="#555"/>
<rect x="518.6" y="0" width="1.4" height="534" fill="#555"/>
<rect x="0" y="532.6" width="520" height="1.4" fill="#555"/>
</svg>
</body></html>
